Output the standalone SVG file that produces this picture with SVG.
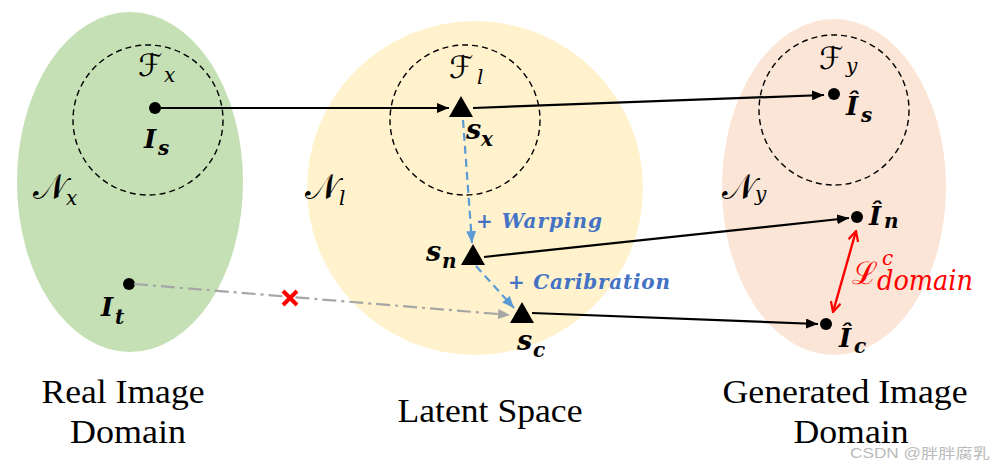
<svg xmlns="http://www.w3.org/2000/svg" width="992" height="470" viewBox="0 0 992 470">
<defs>
<style>
.m{font-family:"DejaVu Serif",serif;font-weight:bold;font-style:italic;fill:#000}
.sc{font-family:"DejaVu Serif","DejaVu Sans",serif;fill:#000}
.sub{font-family:"DejaVu Serif",serif;font-style:italic;fill:#000}
.lbl{font-family:"Liberation Serif",Tinos,"Nimbus Roman",FreeSerif,"Noto Serif",Times,"Times New Roman",serif;font-size:33px;fill:#000}
.dc{fill:none;stroke:#000;stroke-width:1.4;stroke-dasharray:6 4}
.ar{stroke:#000;stroke-width:2.2;fill:none}
.bl{stroke:#5B9BD5;stroke-width:2.2;fill:none;stroke-dasharray:8 5}
.bt{font-family:"DejaVu Serif",serif;font-weight:bold;font-style:italic;fill:#4472C4;font-size:20px}
.rt{font-family:"DejaVu Serif",serif;font-style:italic;fill:#FF0000}
.dot{fill:#000}
</style>
<marker id="ak" viewBox="0 0 12 10" refX="12" refY="5" markerWidth="12" markerHeight="10" markerUnits="userSpaceOnUse" orient="auto"><path d="M0,0 L12,5 L0,10 z" fill="#000"/></marker>
<marker id="ab" viewBox="0 0 12 10" refX="12" refY="5" markerWidth="12" markerHeight="10" markerUnits="userSpaceOnUse" orient="auto"><path d="M0,0 L12,5 L0,10 z" fill="#5B9BD5"/></marker>
<marker id="ag" viewBox="0 0 12 10" refX="12" refY="5" markerWidth="12" markerHeight="10" markerUnits="userSpaceOnUse" orient="auto"><path d="M0,0 L12,5 L0,10 z" fill="#A6A6A6"/></marker>
<marker id="ar" viewBox="0 0 12 12" refX="11" refY="6" markerWidth="12" markerHeight="12" markerUnits="userSpaceOnUse" orient="auto-start-reverse"><path d="M1,1 L11,6 L1,11" fill="none" stroke="#FF0000" stroke-width="2.2"/></marker>
</defs>

<g id="real-domain">
<ellipse cx="130" cy="182" rx="113" ry="170" fill="#C5E0B4"/>
<circle class="dc" cx="148" cy="120" r="75"/>
<text class="sc" x="138" y="76" font-size="31">ℱ</text><text class="sub" x="164" y="82" font-size="20">x</text>
<text class="sc" x="33" y="199" font-size="35">𝒩</text><text class="sub" x="66" y="205" font-size="20">x</text>
</g>
<g id="node-Is">
<circle class="dot" cx="155" cy="108" r="6"/>
<text class="m" x="144" y="148" font-size="26">I</text><text class="m" x="158" y="155" font-size="20">s</text>
</g>
<g id="node-It">
<circle class="dot" cx="129" cy="284" r="6"/>
<text class="m" x="101" y="316" font-size="26">I</text><text class="m" x="115" y="324" font-size="20">t</text>
</g>

<g id="latent-space">
<ellipse cx="475" cy="188" rx="168" ry="167" fill="#FFF2CC"/>
<circle class="dc" cx="465" cy="120" r="75"/>
<text class="sc" x="449" y="78" font-size="31">ℱ</text><text class="sub" x="477" y="84" font-size="20">l</text>
<text class="sc" x="305" y="199" font-size="35">𝒩</text><text class="sub" x="339" y="205" font-size="20">l</text>
</g>
<g id="node-sx">
<path d="M461,96 L473,117 L449,117 z" fill="#000"/>
<text class="m" x="466" y="139" font-size="27">s</text><text class="m" x="481" y="146" font-size="20">x</text>
</g>
<g id="node-sn">
<path d="M473,244 L485,265 L461,265 z" fill="#000"/>
<text class="m" x="426" y="261" font-size="27">s</text><text class="m" x="442" y="268" font-size="20">n</text>
</g>
<g id="node-sc">
<path d="M522,302 L534,323 L510,323 z" fill="#000"/>
<text class="m" x="517" y="350" font-size="27">s</text><text class="m" x="533" y="357" font-size="20">c</text>
</g>

<g id="generated-domain">
<ellipse cx="834" cy="187" rx="112" ry="168" fill="#FBE5D6"/>
<circle class="dc" cx="834" cy="110" r="75"/>
<text class="sc" x="819" y="69" font-size="31">ℱ</text><text class="sub" x="846" y="73" font-size="20">y</text>
<text class="sc" x="722" y="199" font-size="35">𝒩</text><text class="sub" x="755" y="201" font-size="20">y</text>
</g>
<g id="node-Is-hat">
<circle class="dot" cx="834" cy="94" r="6"/>
<text class="m" x="846" y="115" font-size="26">Î</text><text class="m" x="861" y="122" font-size="20">s</text>
</g>
<g id="node-In-hat">
<circle class="dot" cx="857" cy="217" r="6"/>
<text class="m" x="869" y="225" font-size="26">Î</text><text class="m" x="884" y="228" font-size="20">n</text>
</g>
<g id="node-Ic-hat">
<circle class="dot" cx="826" cy="324" r="6"/>
<text class="m" x="839" y="347" font-size="26">Î</text><text class="m" x="854" y="353" font-size="20">c</text>
</g>

<g id="connectors">
<line class="ar" x1="161" y1="108" x2="449" y2="108" marker-end="url(#ak)"/>
<line class="ar" x1="473" y1="108" x2="824" y2="95" marker-end="url(#ak)"/>
<line class="ar" x1="484" y1="257" x2="849" y2="218" marker-end="url(#ak)"/>
<line class="ar" x1="532" y1="313" x2="818" y2="324" marker-end="url(#ak)"/>
<line class="bl" x1="463" y1="120" x2="472" y2="243" marker-end="url(#ab)"/>
<line class="bl" x1="476" y1="266" x2="514" y2="308" marker-end="url(#ab)"/>
<line x1="134" y1="284" x2="510" y2="315" stroke="#A6A6A6" stroke-width="2.2" stroke-dasharray="14 5 3 5" marker-end="url(#ag)"/>
<path d="M283,291 L297,305 M297,291 L283,305" stroke="#FF0000" stroke-width="4"/>
<line x1="856" y1="231" x2="833" y2="312" stroke="#FF0000" stroke-width="2.4" marker-start="url(#ar)" marker-end="url(#ar)"/>
</g>

<g id="labels">
<text class="bt" x="476" y="228" textLength="126" lengthAdjust="spacing">+ Warping</text>
<text class="bt" x="508" y="289" textLength="162" lengthAdjust="spacing">+ Caribration</text>
<text x="852" y="284" font-family="DejaVu Serif,serif" font-size="31" fill="#FF0000">ℒ</text>
<text class="rt" x="882" y="265" font-size="20">c</text>
<text class="rt" x="877" y="290" font-size="28" textLength="96" lengthAdjust="spacingAndGlyphs">domain</text>
<text class="lbl" x="123" y="403" text-anchor="middle" textLength="163" lengthAdjust="spacingAndGlyphs">Real Image</text>
<text class="lbl" x="128" y="443" text-anchor="middle" textLength="116" lengthAdjust="spacingAndGlyphs">Domain</text>
<text class="lbl" x="490" y="422" text-anchor="middle" textLength="185" lengthAdjust="spacingAndGlyphs">Latent Space</text>
<text class="lbl" x="845" y="403" text-anchor="middle" textLength="245" lengthAdjust="spacingAndGlyphs">Generated Image</text>
<text class="lbl" x="851" y="443" text-anchor="middle" textLength="115" lengthAdjust="spacingAndGlyphs">Domain</text>
<text x="850" y="458" font-family="Liberation Sans,Noto Sans CJK SC,sans-serif" font-size="14" fill="#BBBBBB" textLength="140" lengthAdjust="spacingAndGlyphs">CSDN @胖胖腐乳</text>
</g>
</svg>
